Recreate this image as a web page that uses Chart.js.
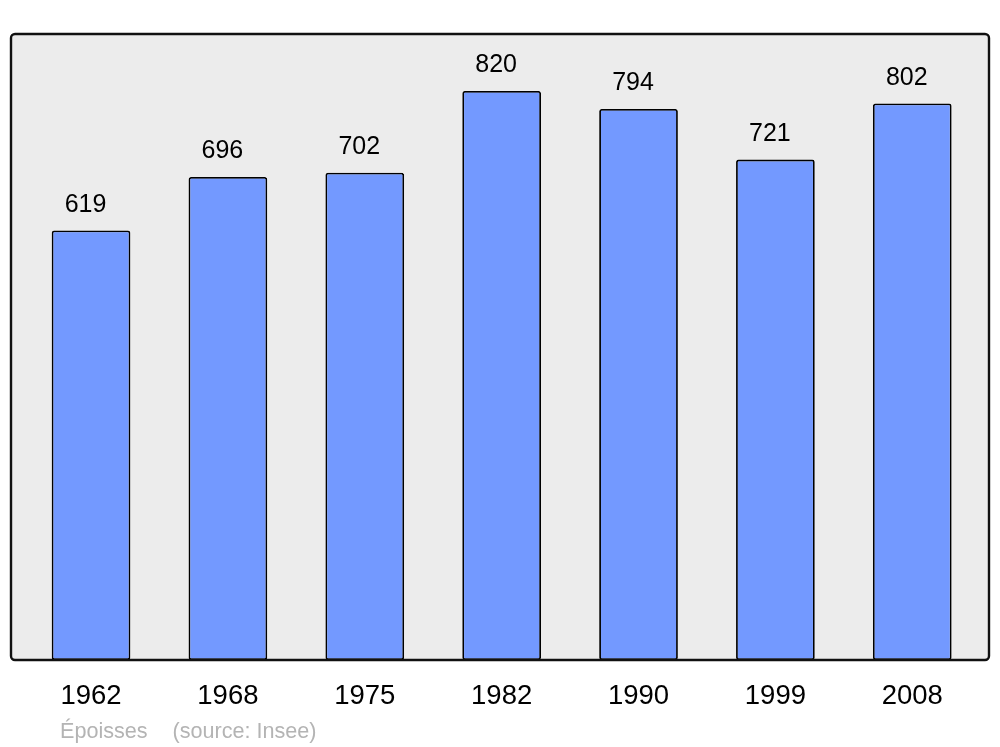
<!DOCTYPE html>
<html>
<head>
<meta charset="utf-8">
<script src="https://cdn.jsdelivr.net/npm/chart.js@4/dist/chart.umd.min.js"></script>
<style>
  html, body { margin: 0; padding: 0; background: #ffffff; }
  #wrap { width: 1000px; height: 747px; position: relative; }
</style>
</head>
<body>
<div id="wrap"><canvas id="c" width="1000" height="747"></canvas></div>
<script>
const years = ["1962", "1968", "1975", "1982", "1990", "1999", "2008"];
const population = [619, 696, 702, 820, 794, 721, 802];
const footerPlace = "Époisses";
const footerSource = "(source: Insee)";
const yMax = 902;

const framePlugin = {
  id: 'frame',
  beforeDatasetsDraw(chart) {
    const ctx = chart.ctx;
    ctx.save();
    ctx.beginPath();
    ctx.roundRect(11, 34, 978, 626, 4);
    ctx.fillStyle = '#ececec';
    ctx.fill();
    ctx.restore();
  },
  afterDatasetsDraw(chart) {
    const ctx = chart.ctx;
    ctx.save();
    ctx.beginPath();
    ctx.roundRect(11, 34, 978, 626, 4);
    ctx.lineWidth = 2.4;
    ctx.strokeStyle = '#111111';
    ctx.stroke();
    // value labels
    const meta = chart.getDatasetMeta(0);
    ctx.fillStyle = '#000000';
    ctx.font = '25px "Liberation Sans", Arial, sans-serif';
    ctx.textAlign = 'center';
    ctx.textBaseline = 'middle';
    meta.data.forEach((bar, i) => {
      ctx.fillText(String(population[i]), bar.x - 5.5, bar.y - 25.5);
    });
    // footer
    ctx.fillStyle = '#b4b4b4';
    ctx.font = '21.6px "Liberation Sans", Arial, sans-serif';
    ctx.textAlign = 'left';
    ctx.textBaseline = 'alphabetic';
    ctx.fillText(footerPlace, 60, 737.5);
    ctx.fillText(footerSource, 172.5, 737.5);
    ctx.restore();
  }
};

new Chart(document.getElementById('c'), {
  type: 'bar',
  data: {
    labels: years,
    datasets: [{
      data: population,
      backgroundColor: '#7399ff',
      borderColor: '#000000',
      borderWidth: 1.8,
      borderRadius: 2.5,
      borderSkipped: false,
      barPercentage: 0.575,
      categoryPercentage: 1.0
    }]
  },
  options: {
    responsive: false,
    animation: false,
    devicePixelRatio: 1,
    layout: { padding: { left: 22.6, right: 19.3, top: 34, bottom: 0 } },
    plugins: {
      legend: { display: false },
      tooltip: { enabled: false },
      title: { display: false }
    },
    scales: {
      x: {
        grid: { display: false, drawTicks: false },
        border: { display: false },
        ticks: {
          color: '#000000',
          font: { family: '"Liberation Sans", Arial, sans-serif', size: 27.5, lineHeight: 1.2 },
          padding: 20,
          maxRotation: 0,
          autoSkip: false
        },
        afterFit(scale) { scale.height = 87; }
      },
      y: {
        display: false,
        min: 0,
        max: yMax
      }
    }
  },
  plugins: [framePlugin]
});
</script>
</body>
</html>
